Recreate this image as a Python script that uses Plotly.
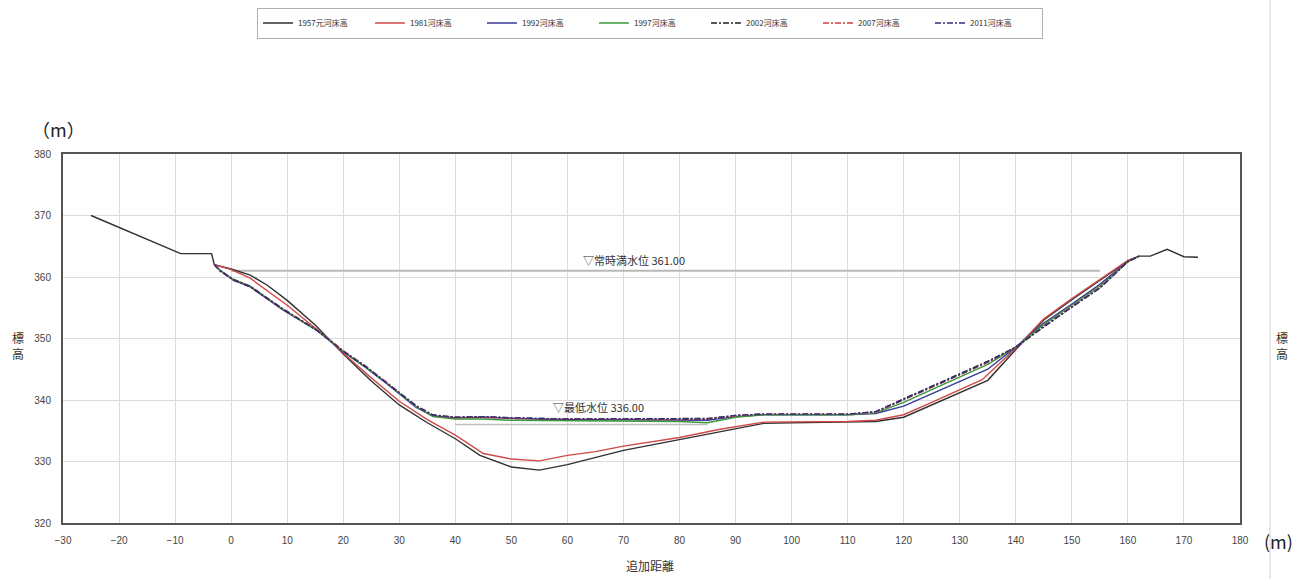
import plotly.graph_objects as go

# ---- data ----
x1957 = [-25, -9, -3.5, -3, 0, 3.4, 6.4, 10, 15, 17, 20, 25, 30, 35, 40, 44.4, 50, 55, 60, 70, 80, 87, 95, 100, 110, 115, 120, 125, 130, 135, 140, 145, 150, 155, 160, 162, 164, 167, 170, 172.5]
y1957 = [370, 363.8, 363.8, 362, 361.3, 360.3, 358.7, 356.2, 352.2, 350.3, 347.5, 343.1, 339.2, 336.3, 333.7, 331, 329.1, 328.6, 329.5, 331.8, 333.6, 334.8, 336.2, 336.3, 336.4, 336.5, 337.2, 339.2, 341.2, 343.2, 348.2, 353, 356.3, 359.5, 362.6, 363.4, 363.4, 364.5, 363.3, 363.2]

x1981 = [-3, 0, 3.4, 10, 17, 20, 25, 30, 35, 40, 45, 50, 55, 60, 65, 70, 80, 87, 95, 100, 110, 115, 120, 125, 130, 134, 140, 145, 150, 155, 160, 162]
y1981 = [362, 361.2, 359.8, 355.4, 350.2, 347.6, 343.6, 339.8, 336.8, 334.3, 331.3, 330.4, 330.1, 331, 331.6, 332.5, 333.9, 335.2, 336.4, 336.4, 336.5, 336.7, 337.6, 339.6, 341.6, 343.3, 348.4, 353.2, 356.5, 359.6, 362.7, 363.4]

xNew = [-3, -2, 0.4, 3.4, 9.3, 15.3, 17, 20, 24, 27, 33, 36, 40, 45, 50, 60, 70, 80, 85, 90, 95, 110, 115, 120, 125, 130, 135, 140, 145, 150, 155, 160, 162]
y1992 = [362, 361.1, 359.5, 358.4, 354.6, 351.3, 350.1, 347.8, 345.3, 343.2, 338.8, 337.4, 337.1, 337.2, 337.0, 336.8, 336.8, 336.8, 336.7, 337.3, 337.6, 337.6, 337.8, 339.0, 341.0, 342.9, 345.0, 348.6, 352.5, 355.6, 358.8, 362.6, 363.4]
y1997 = [362, 361.1, 359.6, 358.5, 354.7, 351.3, 350.1, 347.9, 345.3, 343.3, 338.9, 337.3, 336.9, 336.9, 336.7, 336.6, 336.6, 336.5, 336.3, 337.2, 337.6, 337.6, 337.9, 339.6, 341.7, 343.7, 345.8, 348.6, 352.3, 355.4, 358.5, 362.5, 363.4]
y2002 = [362, 361.1, 359.6, 358.5, 354.8, 351.4, 350.2, 348.0, 345.5, 343.4, 339.1, 337.6, 337.2, 337.3, 337.1, 336.9, 336.9, 336.9, 337.0, 337.5, 337.7, 337.7, 338.1, 340.2, 342.2, 344.3, 346.3, 348.6, 351.9, 355.1, 358.2, 362.5, 363.4]
y2007 = [362, 361.0, 359.5, 358.4, 354.7, 351.4, 350.2, 348.0, 345.4, 343.4, 339.0, 337.5, 337.1, 337.2, 337.0, 336.9, 336.8, 336.8, 336.9, 337.4, 337.7, 337.7, 338.0, 340.0, 342.0, 344.1, 346.1, 348.6, 352.0, 355.2, 358.3, 362.5, 363.4]
y2011 = [362, 361.0, 359.5, 358.4, 354.7, 351.3, 350.1, 347.9, 345.4, 343.3, 339.0, 337.5, 337.2, 337.3, 337.1, 336.9, 336.9, 336.9, 336.9, 337.5, 337.7, 337.7, 338.1, 340.1, 342.1, 344.2, 346.2, 348.6, 352.0, 355.1, 358.2, 362.5, 363.4]

# water levels
wl_high_x = [0, 155]
wl_high_y = [361, 361]
wl_low_x = [40, 85]
wl_low_y = [336, 336]

names = ["1957元河床高", "1981河床高", "1992河床高", "1997河床高", "2002河床高", "2007河床高", "2011河床高"]

CJK = "Noto Sans CJK JP"
NARROW = "Liberation Sans Narrow, Liberation Sans, Arial"
DD = "6px,2px,2px,2px"

fig = go.Figure()
series = [
    (x1957, y1957, names[0], "#303030", "solid"),
    (x1981, y1981, names[1], "#d04848", "solid"),
    (xNew, y1992, names[2], "#3a3a9a", "solid"),
    (xNew, y1997, names[3], "#3a9a3a", "solid"),
    (xNew, y2002, names[4], "#202020", DD),
    (xNew, y2007, names[5], "#d04040", DD),
    (xNew, y2011, names[6], "#303080", DD),
]
fig.add_trace(go.Scatter(x=wl_high_x, y=wl_high_y, mode="lines", line=dict(color="#b8b8b8", width=2), showlegend=False, hoverinfo="skip"))
fig.add_trace(go.Scatter(x=wl_low_x, y=wl_low_y, mode="lines", line=dict(color="#c0c0c0", width=1.5), showlegend=False, hoverinfo="skip"))
for xs, ys, nm, col, dash in series:
    fig.add_trace(go.Scatter(x=xs, y=ys, name=nm, mode="lines",
                             line=dict(color=col, width=1.4, dash=dash)))

axis_common = dict(showgrid=True, gridcolor="#dcdcdc", gridwidth=1,
                   showline=True, linecolor="#555555", linewidth=2, mirror=True,
                   ticks="", zeroline=False,
                   tickfont=dict(family=NARROW, size=10, color="#444444"))

fig.update_layout(
    width=1297, height=579,
    margin=dict(l=63, r=57, t=154, b=56, autoexpand=False),
    paper_bgcolor="white", plot_bgcolor="white",
    xaxis=dict(range=[-30, 180], dtick=10, tick0=0, ticklabelstandoff=7, **axis_common),
    yaxis=dict(range=[320, 380], dtick=10, tick0=320, ticklabelstandoff=8, **axis_common),
    showlegend=True,
    legend=dict(orientation="h", x=0.4987, xanchor="center", y=1.355, yanchor="middle",
                bordercolor="#b0b0b0", borderwidth=1, bgcolor="white",
                font=dict(family=CJK, size=8, color="#333333"),
                entrywidth=67, itemwidth=30, tracegroupgap=0),
    font=dict(family=CJK),
)

ann = [
    dict(text="▽常時満水位 361.00", x=62.5, y=361, xanchor="left", yanchor="bottom", yshift=1,
         font=dict(family=CJK, size=11, color="#333333")),
    dict(text="▽最低水位 336.00", x=57, y=336.9, xanchor="left", yanchor="bottom", yshift=2,
         font=dict(family=CJK, size=11, color="#333333")),
]
for a in ann:
    fig.add_annotation(showarrow=False, xref="x", yref="y", **a)

paper_ann = [
    dict(text="（m）", x=-0.004, y=1.068, xanchor="center", yanchor="middle", font=dict(family=CJK, size=18, color="#222222")),
    dict(text="標<br>高", x=-0.038, y=0.48, xanchor="center", yanchor="middle", font=dict(family=CJK, size=12, color="#333333")),
    dict(text="標<br>高", x=1.036, y=0.48, xanchor="center", yanchor="middle", font=dict(family=CJK, size=12, color="#333333")),
    dict(text="追加距離", x=0.4987, y=-0.115, xanchor="center", yanchor="middle", font=dict(family=CJK, size=12, color="#333333")),
    dict(text="(m)", x=1.0465, y=-0.05, xanchor="right", yanchor="middle", font=dict(family=CJK, size=18, color="#222222")),
]
for a in paper_ann:
    fig.add_annotation(showarrow=False, xref="paper", yref="paper", **a)

fig.add_shape(type="line", xref="paper", yref="paper", x0=1.0255, x1=1.0255, y0=-0.16, y1=1.42,
              line=dict(color="#e2e2e2", width=1.5))

fig.write_html("out.html")
